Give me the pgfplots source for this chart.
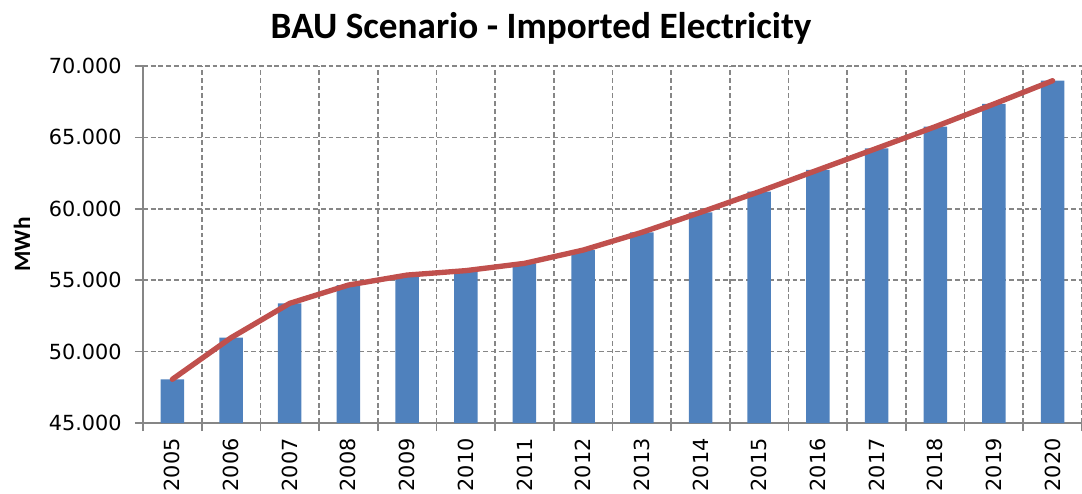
\documentclass[border=0pt]{standalone}
\usepackage{pgfplots}
\pgfplotsset{compat=1.18}
\usepackage{fontspec}
\setmainfont{Carlito}
\newfontfamily\djv{DejaVu Sans}
\definecolor{barblue}{HTML}{4F81BD}
\definecolor{linered}{HTML}{C0504D}
\definecolor{gridgray}{HTML}{868686}
\begin{document}
\begin{tikzpicture}
\path[use as bounding box, x=0.75pt, y=0.75pt] (-143,-70) rectangle (939,423);
\begin{axis}[
  at={(0,0)}, anchor=south west,
  scale only axis,
  width=704.25pt, height=267.75pt,
  xmin=-0.5, xmax=15.5,
  ymin=45000, ymax=70000,
  scaled y ticks=false,
  axis lines=left,
  axis line style={-, gridgray, line width=1.3pt},
  xtick={0,...,15},
  xticklabels={2005,2006,2007,2008,2009,2010,2011,2012,2013,2014,2015,2016,2017,2018,2019,2020},
  minor xtick={-0.5,0.5,...,15.5},
  major x tick style={draw=none},
  minor tick length=6pt,
  major tick length=6pt,
  tick align=outside,
  tick style={gridgray, line width=1.3pt},
  ytick={45000,50000,55000,60000,65000,70000},
  yticklabels={45.000,50.000,55.000,60.000,65.000,70.000},
  ymajorgrids=true,
  xminorgrids=true,
  grid style={gridgray, line width=1.3pt, dash pattern=on 3.6pt off 2.2pt},
  minor grid style={gridgray, line width=1.3pt, dash pattern=on 3.6pt off 2.2pt},
  ticklabel style={font=\djv\fontsize{15.6}{18}\selectfont, text=black},
  xticklabel style={rotate=90, anchor=east, xshift=-2pt},
  yticklabel style={xshift=-6.5pt},
  title={BAU Scenario - Imported Electricity},
  title style={font=\bfseries\fontsize{27.9}{30}\selectfont, at={(axis description cs:0.424,1.0784)}, anchor=base, yshift=-6pt},
  ylabel={MWh},
  ylabel style={font=\bfseries\fontsize{17.5}{20}\selectfont, at={(axis description cs:-0.1289,0.5)}, anchor=center, rotate=0},
  clip=false,
]
\addplot[ybar, bar width=0.4, fill=barblue, draw=none] coordinates {
(0,48060) (1,50970) (2,53380) (3,54660) (4,55360) (5,55670) (6,56180) (7,57110)
(8,58350) (9,59750) (10,61200) (11,62720) (12,64230) (13,65750) (14,67340) (15,68970)
};
\addplot[linered, line width=4pt, line join=round, line cap=round, mark=none] coordinates {
(0,48060) (1,50970) (2,53380) (3,54660) (4,55360) (5,55670) (6,56180) (7,57110)
(8,58350) (9,59750) (10,61200) (11,62720) (12,64230) (13,65750) (14,67340) (15,68970)
};
\end{axis}
\end{tikzpicture}
\end{document}
